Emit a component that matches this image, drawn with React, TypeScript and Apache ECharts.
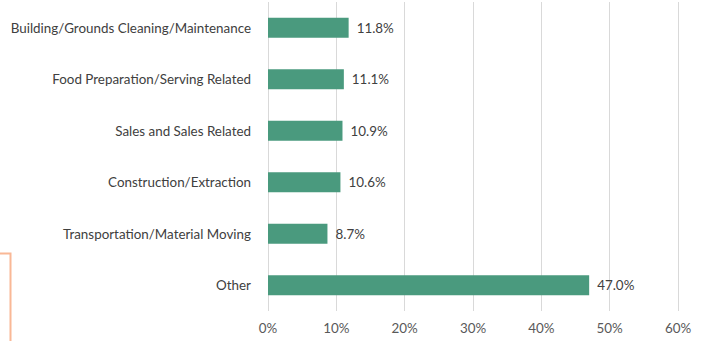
import React, { useEffect, useRef } from "react";
import * as echarts from "echarts";

const categories = [
  "Building/Grounds Cleaning/Maintenance",
  "Food Preparation/Serving Related",
  "Sales and Sales Related",
  "Construction/Extraction",
  "Transportation/Material Moving",
  "Other",
];
const values = [11.8, 11.1, 10.9, 10.6, 8.7, 47.0];
const xTicks = [0, 10, 20, 30, 40, 50, 60];

export default function App() {
  const ref = useRef<HTMLDivElement>(null);
  useEffect(() => {
    document.body.style.margin = "0";
    const chart = echarts.init(ref.current!, null, { renderer: "svg" });
    const font = "Lato, 'Noto Sans', sans-serif";
    chart.setOption({
      animation: false,
      backgroundColor: "#ffffff",
      grid: { left: 268, right: 32, top: 2, height: 309, containLabel: false },
      xAxis: {
        type: "value",
        min: xTicks[0],
        max: xTicks[xTicks.length - 1],
        interval: 10,
        axisLine: { show: false },
        axisTick: { show: false },
        splitLine: { show: true, lineStyle: { color: "#d9d9d9", width: 1 } },
        axisLabel: {
          formatter: "{value}%",
          color: "#595959",
          fontSize: 13.4,
          fontFamily: font,
          margin: 10,
        },
      },
      yAxis: {
        type: "category",
        data: categories,
        inverse: true,
        axisLine: { show: false },
        axisTick: { show: false },
        splitLine: { show: false },
        axisLabel: {
          color: "#404040",
          fontSize: 13.4,
          fontFamily: font,
          margin: 17,
        },
      },
      series: [
        {
          type: "bar",
          data: values,
          barWidth: 20,
          itemStyle: { color: "#4a9a7e" },
          label: {
            show: true,
            position: "right",
            distance: 8,
            color: "#404040",
            fontSize: 13.4,
            fontFamily: font,
            formatter: (p: any) => Number(p.value).toFixed(1) + "%",
          },
        },
      ],
      graphic: [
        {
          type: "polyline",
          shape: { points: [[0, 253.5], [10.5, 253.5], [10.5, 341]] },
          style: { stroke: "#f9b896", lineWidth: 2, fill: null },
          silent: true,
        },
      ],
    });
    return () => chart.dispose();
  }, []);
  return <div ref={ref} style={{ width: 710, height: 341 }} />;
}
